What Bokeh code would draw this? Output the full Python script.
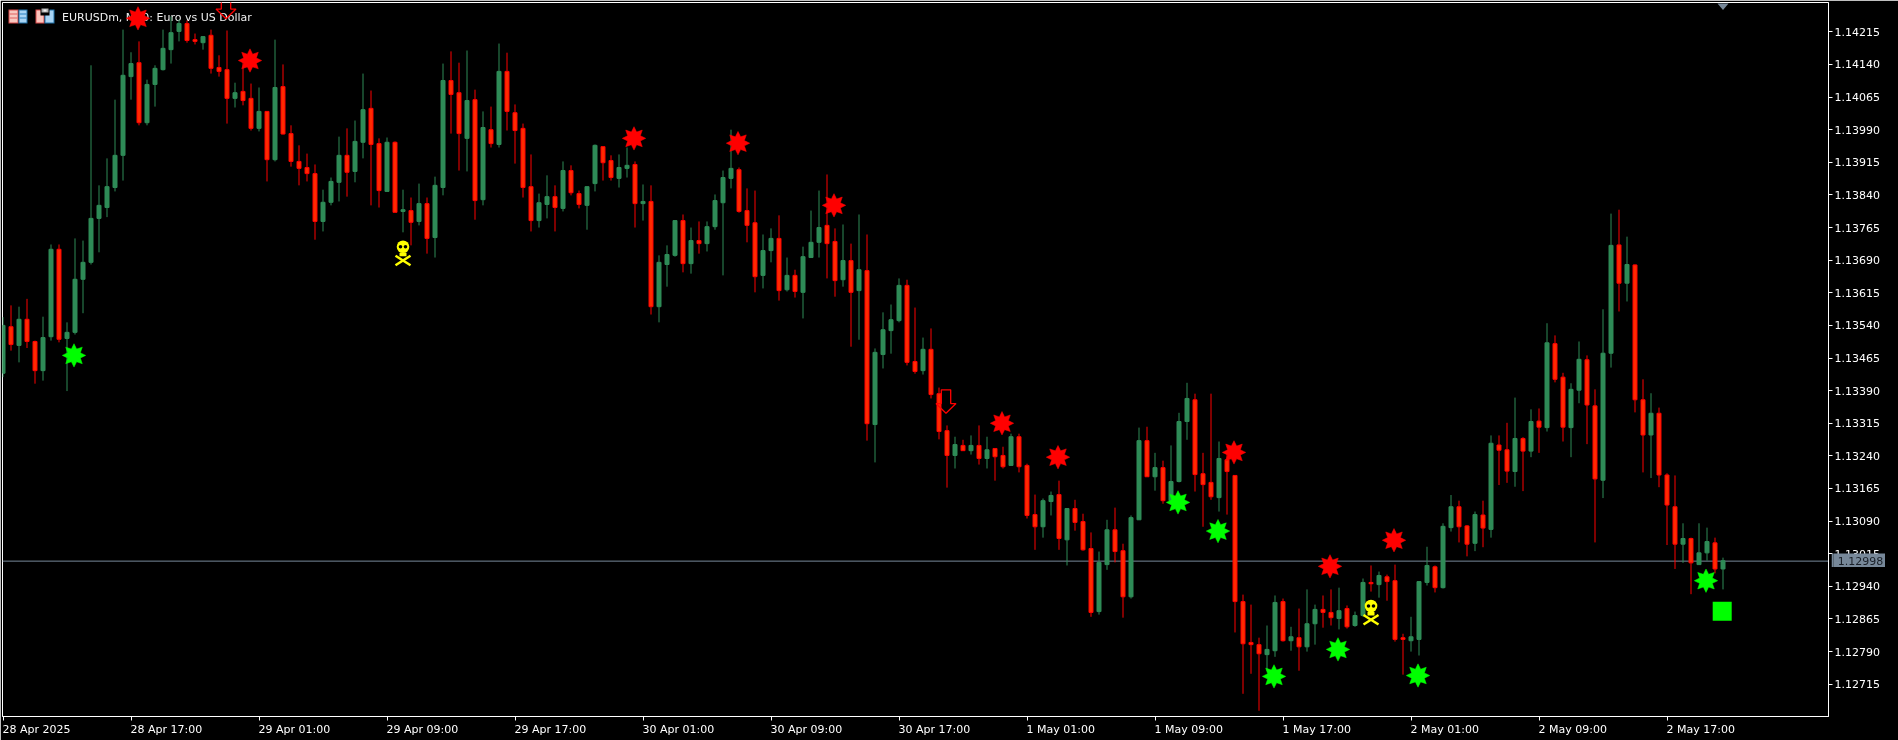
import numpy as np
from bokeh.embed import file_html
from bokeh.layouts import column
from bokeh.models import FixedTicker, Label, NumeralTickFormatter, Range1d
from bokeh.plotting import figure
from bokeh.resources import INLINE
from bokeh.core.properties import value

# ---- data: EURUSDm M30 candles, prices in points (1e-5) ----
highs = [
 113559,113586,113583,113601,113505,113560,113726,113726,113547,113740,
 113735,114138,113862,113924,114059,114220,114168,114193,114105,114138,
 114220,114250,114243,114241,114211,114204,114220,114161,114218,114098,
 114149,114096,114087,114032,114197,114140,114000,113954,113935,113910,
 113852,113880,113974,113993,114011,114119,114080,113970,113972,113963,
 113852,113834,113866,113834,113882,114142,114170,114144,114172,114082,
 114032,114043,114188,114167,114048,114004,113933,113843,113885,113862,
 113917,113908,113850,113859,113956,113951,113931,113933,113949,113917,
 113864,113862,113701,113724,113781,113795,113765,113779,113779,113841,
 113896,113990,113903,113855,113850,113749,113763,113793,113696,113668,
 113721,113804,113850,113887,113763,113772,113728,113795,113749,113487,
 113570,113588,113648,113645,113581,113512,113533,113397,113310,113284,
 113277,113287,113310,113284,113257,113261,113291,113291,113222,113151,
 113142,113158,113183,113119,113139,113107,113064,113020,113093,113121,
 113038,113103,113305,113307,113247,113229,113264,113339,113408,113383,
 113247,113383,113273,113252,113195,112921,112898,112822,112850,112919,
 112912,112847,112889,112933,112898,112919,112933,112937,112896,112882,
 112958,112988,112974,112967,112990,112831,112870,112951,113031,112988,
 113085,113150,113137,113081,113112,113137,113287,113287,113316,113374,
 113283,113347,113349,113545,113517,113431,113407,113503,113471,113393,
 113577,113797,113806,113744,113680,113416,113384,113351,113200,113195,
 113085,113052,113085,113075,113052,113006]
lows = [
 113421,113482,113455,113488,113406,113413,113505,113501,113389,113519,
 113568,113680,113708,113789,113848,113873,114059,114000,114000,114043,
 114126,114142,114193,114190,114186,114174,114119,114112,114004,114041,
 114046,113988,113986,113871,113917,113979,113905,113862,113871,113737,
 113756,113816,113825,113836,113869,113924,113816,113811,113848,113800,
 113754,113724,113770,113705,113696,113839,113981,113896,113894,113783,
 113816,113949,113949,113988,113912,113834,113756,113765,113786,113756,
 113802,113839,113809,113760,113848,113873,113873,113857,113880,113765,
 113781,113565,113547,113629,113698,113662,113659,113705,113710,113760,
 113655,113855,113799,113731,113616,113625,113685,113597,113618,113604,
 113556,113696,113696,113648,113606,113629,113491,113507,113275,113225,
 113441,113475,113547,113448,113429,113427,113372,113278,113167,113211,
 113252,113243,113220,113211,113183,113211,113218,113202,113096,113024,
 113052,113103,113024,112988,113068,113022,112870,112875,112978,112995,
 112868,112912,113093,113192,113160,113130,113129,113179,113277,113158,
 113077,113139,113112,113105,112834,112693,112739,112654,112746,112778,
 112813,112792,112746,112790,112806,112845,112850,112841,112843,112847,
 112870,112928,112914,112907,112813,112737,112790,112781,112942,112926,
 112935,113066,113041,113009,113021,113030,113052,113173,113178,113169,
 113159,113237,113247,113296,113409,113273,113237,113361,113267,113041,
 113143,113443,113572,113595,113340,113202,113189,113168,113035,112980,
 112994,112922,112990,112999,112970,112933]
opens = [
 113430,113537,113494,113554,113503,113436,113514,113715,113510,113524,
 113646,113685,113786,113811,113857,113931,114112,114144,114006,114094,
 114128,114174,114216,114234,114197,114190,114207,114133,114128,114062,
 114078,114062,113993,114032,113921,114089,113981,113917,113903,113889,
 113779,113823,113869,113931,113894,113961,114039,113958,113848,113961,
 113802,113804,113779,113820,113742,113857,114103,114075,113970,114059,
 113829,113990,113956,114124,114029,113993,113859,113781,113818,113836,
 113809,113896,113843,113816,113866,113951,113919,113878,113901,113910,
 113820,113825,113583,113680,113701,113781,113682,113735,113728,113767,
 113822,113878,113898,113804,113776,113655,113712,113740,113622,113655,
 113616,113696,113731,113770,113733,113645,113689,113620,113666,113312,
 113473,113528,113551,113632,113457,113436,113485,113383,113298,113241,
 113264,113252,113264,113234,113257,113241,113218,113284,113218,113105,
 113077,113135,113151,113047,113119,113089,113027,112882,112990,113070,
 113022,112916,113093,113275,113192,113213,113137,113181,113319,113369,
 113199,113179,113144,113231,113195,112905,112811,112806,112783,112792,
 112905,112815,112822,112801,112854,112887,112880,112866,112889,112850,
 112873,112949,112944,112962,112953,112822,112815,112818,112949,112985,
 112937,113075,113123,113079,113039,113104,113071,113265,113254,113204,
 113280,113251,113320,113305,113498,113421,113305,113391,113461,113355,
 113184,113476,113725,113637,113679,113369,113288,113338,113196,113123,
 113037,113050,112990,113017,113040,112980]
closes = [
 113540,113496,113554,113503,113436,113512,113715,113508,113524,113646,
 113685,113786,113816,113859,113931,114115,114142,114006,114094,114131,
 114177,114213,114234,114195,114193,114204,114131,114124,114062,114075,
 114057,113993,114032,113921,114087,113980,113917,113901,113889,113779,
 113823,113871,113931,113892,113963,114036,113956,113850,113961,113800,
 113806,113777,113820,113740,113862,114103,114071,113981,114057,113827,
 113995,113958,114124,114032,113988,113857,113781,113822,113836,113811,
 113896,113845,113818,113859,113954,113914,113880,113903,113908,113820,
 113825,113583,113685,113703,113781,113682,113735,113728,113767,113827,
 113880,113901,113802,113770,113652,113712,113740,113620,113655,113618,
 113698,113731,113765,113728,113643,113689,113616,113668,113314,113478,
 113530,113553,113632,113455,113434,113485,113381,113296,113241,113266,
 113252,113264,113234,113254,113238,113215,113284,113215,113103,113077,
 113137,113149,113050,113119,113087,113024,112880,112995,113070,113020,
 112916,113098,113275,113192,113213,113137,113181,113319,113372,113197,
 113174,113146,113234,113204,112905,112808,112806,112785,112795,112903,
 112815,112824,112801,112854,112887,112880,112868,112884,112847,112873,
 112949,112946,112965,112951,112818,112818,112824,112951,112988,112937,
 113078,113123,113077,113037,113105,113074,113269,113253,113205,113280,
 113251,113319,113306,113500,113416,113306,113393,113462,113357,113187,
 113476,113724,113637,113680,113369,113288,113338,113196,113127,113037,
 113050,112994,113017,113043,112980,112999]

bid_price = 1.12998
bid_text = "1.12998"
ytick_values = [1.12715,1.12790,1.12865,1.12940,1.13015,1.13090,1.13165,1.13240,1.13315,1.13390,
                1.13465,1.13540,1.13615,1.13690,1.13765,1.13840,1.13915,1.13990,1.14065,1.14140,1.14215]
xtick_bars = [0,16,32,48,64,80,96,112,128,144,160,176,192,208]
xtick_labels = ["28 Apr 2025","28 Apr 17:00","29 Apr 01:00","29 Apr 09:00","29 Apr 17:00",
                "30 Apr 01:00","30 Apr 09:00","30 Apr 17:00","1 May 01:00","1 May 09:00",
                "1 May 17:00","2 May 01:00","2 May 09:00","2 May 17:00"]
title_text = "EURUSDm, M30:  Euro vs US Dollar"

# indicator signals: bar index and price
red_star_bars = [17,31,79,92,104,125,132,154,166,174]
red_star_prices = [114246,114149,113970,113959,113816,113315,113237,113248,112986,113046]
green_star_bars = [9,147,152,159,167,177,213]
green_star_prices = [113471,113133,113067,112733,112795,112735,112953]
skull_bars = [50,171]
skull_prices = [113707,112881]
arrow_bars = [28,118]
arrow_tip_prices = [114245,113338]
square_bar = [214.9]
square_price = [112883]

# ---- scales ----
BG = "#000000"; FG = "#ffffff"; SLATE = "#778899"
RED = "#ff0000"; RED_FILL = "#ff2a00"; GREEN = "#2e8b57"; LIME = "#00ff00"; YELLOW = "#ffff00"
X_PX = 8.0                 # pixels per bar
Y_UNIT = 2.2992e-5         # price per pixel
W, H = 1898, 740
FL, FR, FT, FB = 2, 1828, 2, 716

def xpx(x): return (np.asarray(x, dtype=float) - 2.5) / X_PX
def ypx(y): return 1.14287 - np.asarray(y, dtype=float) * Y_UNIT

p = figure(width=W, height=H, output_backend="svg", toolbar_location=None,
           x_range=Range1d(float(xpx(FL)), float(xpx(FR))),
           y_range=Range1d(float(ypx(FB)), float(ypx(FT))),
           x_axis_location="below", y_axis_location="right",
           min_border_left=FL, min_border_top=FT, min_border_right=W-FR, min_border_bottom=H-FB,
           background_fill_color=BG, border_fill_color=BG,
           outline_line_color=FG, outline_line_width=1,
           styles={"position": "fixed", "left": "0px", "top": "0px"})
p.grid.visible = False

for ax in (p.xaxis[0], p.yaxis[0]):
    ax.axis_line_color = FG
    ax.major_tick_line_color = FG
    ax.major_tick_in = 0
    ax.major_tick_out = 4
    ax.minor_tick_line_color = None
    ax.major_label_text_color = FG
    ax.major_label_text_font = "DejaVu Sans"
    ax.major_label_text_font_size = "11px"
p.yaxis[0].ticker = FixedTicker(ticks=ytick_values)
p.yaxis[0].formatter = NumeralTickFormatter(format="0.00000")
p.yaxis[0].major_label_standoff = 2

# tick marks at the bars (minor ticks); labels centred so that each one starts at its tick
CHAR_W = {"A": 7.53, "M": 9.49, "a": 6.74, "p": 6.98, "r": 4.51, "y": 6.5, " ": 3.5, ":": 3.7}
def text_w(t): return sum(CHAR_W.get(ch, 7.0) for ch in t)
label_ticks = [float(b) + (text_w(t) / 2 - 0.5) / X_PX for b, t in zip(xtick_bars, xtick_labels)]
xax = p.xaxis[0]
xax.ticker = FixedTicker(ticks=label_ticks, minor_ticks=xtick_bars)
xax.major_label_overrides = dict(zip(label_ticks, xtick_labels))
xax.major_tick_line_color = None
xax.major_tick_out = 0
xax.minor_tick_line_color = FG
xax.minor_tick_in = 0
xax.minor_tick_out = 4
xax.major_label_standoff = 2

# title + window icons
p.add_layout(Label(x=float(xpx(61.5)), y=float(ypx(16.5)), text=title_text, text_color="#f0f0f0",
                   text_font="DejaVu Sans", text_font_size="11px", text_align="left",
                   text_baseline="middle", level="underlay"))

def box(x0, x1, y0, y1, color):
    p.quad(left=[float(xpx(x0))], right=[float(xpx(x1))], top=[float(ypx(y0))], bottom=[float(ypx(y1))],
           fill_color=color, line_color=None)
box(8, 18, 9, 23, "#d84848"); box(9, 17, 10, 22, "#f8c8c0")
box(9, 17, 13, 14, "#e06060"); box(9, 17, 17, 18, "#e06060")
box(18, 27, 9, 23, "#1f70a8"); box(19, 26, 10, 22, "#a8d4f4")
box(19, 26, 13, 14, "#2a80c0"); box(19, 26, 17, 18, "#2a80c0")
box(35, 44, 9, 23, "#d84848"); box(36, 43, 10, 22, "#fcc4bc")
box(44, 54, 9, 23, "#1f70a8"); box(45, 53, 10, 22, "#a8d4f4")
box(40, 49, 8, 15, "#000000"); box(41, 48, 8, 12, "#b0b0b0"); box(43, 46, 9, 11, "#f0f0f0")

# bid line
p.line([float(xpx(FL)), float(xpx(FR))], [bid_price, bid_price], line_color=SLATE, line_width=1)

# candles
o = np.array(opens) * 1e-5; c = np.array(closes) * 1e-5
hi = np.array(highs) * 1e-5; lo = np.array(lows) * 1e-5
idx = np.arange(len(opens), dtype=float)
up = c >= o
for mask, edge, fill in ((up, GREEN, GREEN), (~up, RED, RED_FILL)):
    p.segment(idx[mask], hi[mask], idx[mask], lo[mask], line_color=edge, line_width=1)
    p.vbar(x=idx[mask], width=4 / X_PX, top=np.maximum(o, c)[mask], bottom=np.minimum(o, c)[mask],
           fill_color=fill, line_color=edge, line_width=1)

# 8-pointed signal stars
ang = np.arange(16) * np.pi / 8
rad = np.where(np.arange(16) % 2 == 0, 11.7, 6.9)
sx = np.sin(ang) * rad; sy = np.cos(ang) * rad
def stars(bars, prices, color):
    xs = [list(b + (sx - 1) / X_PX) for b in bars]
    ys = [list(v * 1e-5 + sy * Y_UNIT) for v in prices]
    p.patches(xs, ys, fill_color=color, line_color=color, line_width=0.5)
stars(red_star_bars, red_star_prices, RED)
stars(green_star_bars, green_star_prices, LIME)

# hollow down arrows (Wingdings-style)
ax_ = np.array([-4.7, 4.7, 4.7, 10, 0, -10, -4.7, -4.7]) - 1
ay_ = np.array([23.4, 23.4, 9.7, 9.7, 0, 9.7, 9.7, 23.4])
p.patches([list(b + ax_ / X_PX) for b in arrow_bars],
          [list(v * 1e-5 + ay_ * Y_UNIT) for v in arrow_tip_prices],
          fill_color=None, line_color=RED, line_width=1.3)

# skull and crossbones signals
bx = np.array(skull_bars, dtype=float)
by = np.array(skull_prices) * 1e-5
def off(dx, dy):  # pixel offset from a skull centre (dy down)
    return bx + dx / X_PX, by - dy * Y_UNIT
p.segment(*off(-7.5, 3), *off(7.5, 12.5), line_color=YELLOW, line_width=2.5)
p.segment(*off(7.5, 3), *off(-7.5, 12.5), line_color=YELLOW, line_width=2.5)
p.circle(*off(0, -6), radius=6.3 / X_PX, fill_color=YELLOW, line_color=None)
p.vbar(x=bx, width=7.0 / X_PX, top=by, bottom=by - 3.5 * Y_UNIT, fill_color=YELLOW, line_color=None)
p.scatter(*off(-2.5, -6), marker="circle", size=3.6, fill_color=BG, line_color=None)
p.scatter(*off(2.5, -6), marker="circle", size=3.6, fill_color=BG, line_color=None)

# green signal square
p.scatter(square_bar, np.array(square_price) * 1e-5, marker="square", size=19, fill_color=LIME, line_color=None)

# shift marker at the top
tx = np.array([1717.0, 1728.0, 1722.5]); ty = np.array([3.0, 3.0, 9.5])
p.patch(xpx(tx), ypx(ty), fill_color=SLATE, line_color=None)

# bid price tag laid over the price axis
tag = figure(frame_width=54, frame_height=14, output_backend="svg", toolbar_location=None, title=None,
             x_range=Range1d(0, 1), y_range=Range1d(0, 1), x_axis_type=None, y_axis_type=None,
             min_border=0, min_border_left=0, min_border_right=0, min_border_top=0, min_border_bottom=0,
             background_fill_color=SLATE, border_fill_color=SLATE, outline_line_color=None,
             styles={"position": "fixed", "left": "1831px", "top": "553px", "z-index": "10"})
tag.grid.visible = False
tag.text([0.5], [0.5], text=[bid_text], text_color="#1a2028", text_font=value("DejaVu Sans"),
         text_font_size="11px", text_align="center", text_baseline="middle")

page = column(p, tag)
open("out.html", "w").write(file_html(page, INLINE))
